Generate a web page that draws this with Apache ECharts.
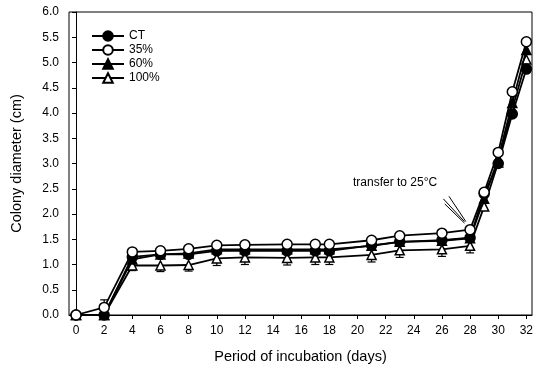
<!DOCTYPE html>
<html>
<head>
<meta charset="utf-8">
<script src="https://cdn.jsdelivr.net/npm/echarts@6/dist/echarts.min.js"></script>
<style>
  html, body { margin: 0; padding: 0; background: #fff; }
  #chart { width: 539px; height: 369px; }
</style>
</head>
<body>
<div id="chart"></div>
<script>
const days = [0, 2, 4, 6, 8, 10, 12, 15, 17, 18, 21, 23, 26, 28, 29, 30, 31, 32];
const ct = [0, 0, 1.15, 1.2, 1.2, 1.27, 1.27, 1.27, 1.27, 1.27, 1.38, 1.45, 1.48, 1.53, 2.4, 3.0, 3.98, 4.87];
const p35 = [0, 0.15, 1.25, 1.27, 1.31, 1.38, 1.39, 1.4, 1.4, 1.4, 1.48, 1.57, 1.62, 1.69, 2.43, 3.22, 4.42, 5.41];
const p60 = [0, 0, 1.1, 1.2, 1.22, 1.3, 1.3, 1.3, 1.3, 1.3, 1.37, 1.45, 1.47, 1.52, 2.3, 3.1, 4.2, 5.25];
const p100 = [0, 0, 0.98, 0.98, 0.99, 1.12, 1.14, 1.13, 1.14, 1.14, 1.19, 1.28, 1.3, 1.37, 2.15, 3.02, 4.08, 5.06];
const err35 = [0, 0.15, 0, 0, 0, 0, 0, 0, 0, 0, 0, 0, 0, 0, 0, 0, 0, 0];
const err100 = [0, 0, 0.1, 0.12, 0.12, 0.14, 0.14, 0.14, 0.14, 0.14, 0.14, 0.14, 0.14, 0.14, 0, 0, 0, 0];
const xTicks = [0, 2, 4, 6, 8, 10, 12, 14, 16, 18, 20, 22, 24, 26, 28, 30, 32];

const font = 'Liberation Sans, Arial, sans-serif';

function pairs(ys) {
  return days.map((d, i) => [d, ys[i]]);
}

// error bars: [x, y, yEnd]
function errData(ys, errs, dir) {
  const out = [];
  days.forEach((d, i) => {
    if (errs[i] > 0) out.push([d, ys[i], ys[i] + dir * errs[i]]);
  });
  return out;
}

function renderErr(params, api) {
  const p0 = api.coord([api.value(0), api.value(1)]);
  const p1 = api.coord([api.value(0), api.value(2)]);
  const w = 4;
  const style = { stroke: '#000', lineWidth: 1.2 };
  return {
    type: 'group',
    children: [
      { type: 'line', shape: { x1: p0[0], y1: p0[1], x2: p1[0], y2: p1[1] }, style },
      { type: 'line', shape: { x1: p1[0] - w, y1: p1[1], x2: p1[0] + w, y2: p1[1] }, style }
    ]
  };
}

function lineSeries(name, data, symbol, fill, z) {
  return {
    name: name,
    type: 'line',
    data: pairs(data),
    symbol: symbol,
    symbolSize: symbol === 'triangle' ? 9 : 10,
    showSymbol: true,
    z: z,
    lineStyle: { color: '#000', width: 1.8 },
    itemStyle: { color: fill, borderColor: '#000', borderWidth: 1.5 },
    animation: false
  };
}

const chart = echarts.init(document.getElementById('chart'));

chart.setOption({
  backgroundColor: '#fff',
  animation: false,
  grid: {
    left: 69, right: 7, top: 12, bottom: 54,
    show: true, borderColor: '#000', borderWidth: 1
  },
  legend: {
    left: 86, top: 25,
    orient: 'vertical',
    itemGap: 2,
    itemWidth: 32,
    itemHeight: 12,
    textStyle: { fontFamily: font, fontSize: 12, color: '#000' },
    data: ['CT', '35%', '60%', '100%']
  },
  xAxis: {
    type: 'value',
    min: -0.5,
    max: 32.4,
    name: 'Period of incubation (days)',
    nameLocation: 'middle',
    nameGap: 34,
    nameTextStyle: { fontFamily: font, fontSize: 14.5, color: '#000' },
    axisLine: { onZero: false, lineStyle: { color: '#000', width: 1 } },
    axisTick: { show: true, length: 4, customValues: xTicks, lineStyle: { color: '#000' } },
    axisLabel: { customValues: xTicks, fontFamily: font, fontSize: 12, color: '#000', margin: 10 },
    splitLine: { show: false }
  },
  yAxis: {
    type: 'value',
    min: 0,
    max: 6,
    interval: 0.5,
    name: 'Colony diameter (cm)',
    nameLocation: 'middle',
    nameGap: 45,
    nameTextStyle: { fontFamily: font, fontSize: 14.5, color: '#000' },
    axisLine: { show: true, lineStyle: { color: '#000', width: 1 } },
    axisTick: { show: true, length: 4, lineStyle: { color: '#000' } },
    axisLabel: {
      fontFamily: font, fontSize: 12, color: '#000', margin: 10,
      formatter: v => v.toFixed(1)
    },
    splitLine: { show: false }
  },
  graphic: [
    {
      type: 'text', left: 353, top: 177,
      style: { text: 'transfer to 25°C', font: '12px Liberation Sans, Arial, sans-serif', fill: '#000' }
    }
  ],
  series: [
    {
      type: 'custom', name: 'err100', renderItem: renderErr,
      data: errData(p100, err100, -1), z: 1, silent: true
    },
    {
      type: 'custom', name: 'err35', renderItem: renderErr,
      data: errData(p35, err35, 1), z: 1, silent: true
    },
    lineSeries('100%', p100, 'triangle', '#fff', 2),
    lineSeries('60%', p60, 'triangle', '#000', 3),
    Object.assign(lineSeries('CT', ct, 'circle', '#000', 4), {
      markLine: {
        silent: true,
        symbol: 'none',
        label: { show: false },
        lineStyle: { color: '#000', width: 1, type: 'solid' },
        data: [
          [{ coord: [26.1, 2.3] }, { coord: [27.6, 1.85] }],
          [{ coord: [26.5, 2.35] }, { coord: [27.7, 1.85] }],
          [{ coord: [26.2, 2.2] }, { coord: [27.6, 1.82] }]
        ]
      }
    }),
    lineSeries('35%', p35, 'circle', '#fff', 5)
  ]
});
</script>
</body>
</html>
